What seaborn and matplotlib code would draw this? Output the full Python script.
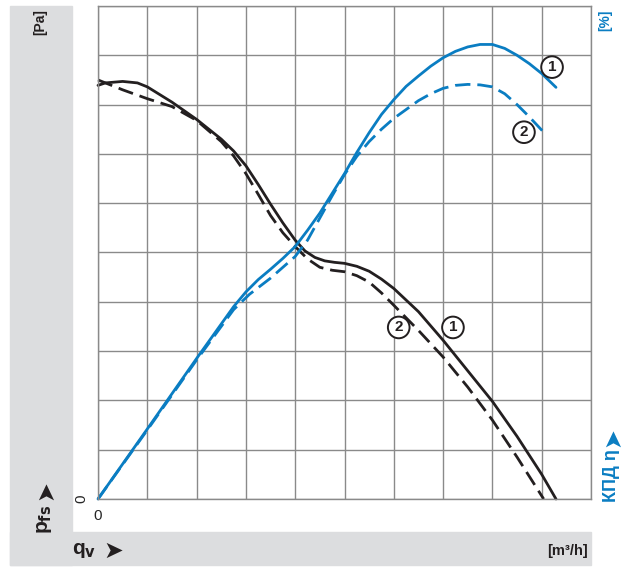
import matplotlib
matplotlib.use("Agg")
import matplotlib.pyplot as plt
import matplotlib.patches as mpatches
import numpy as np
import pandas as pd
import seaborn as sns

# ---------------------------------------------------------------------------
# Data (grid units)
# ---------------------------------------------------------------------------

flow_p1 = [0, 0.15, 0.5, 0.8, 1.0, 1.5, 2.0, 2.5, 2.75, 3.0, 3.25, 3.5, 3.75, 4.0, 4.2,
           4.4, 4.6, 4.8, 5.0, 5.25, 5.5, 5.75, 6.0, 6.5, 7.0, 7.5, 8.0, 8.5, 9.0, 9.29]
pres_1 = [8.39, 8.44, 8.47, 8.44, 8.36, 8.05, 7.70, 7.3, 7.06, 6.76, 6.38, 5.98, 5.6,
          5.25, 5.03, 4.9, 4.83, 4.8, 4.78, 4.72, 4.62, 4.46, 4.27, 3.8, 3.22, 2.6,
          1.98, 1.27, 0.5, 0.0]

flow_p2 = [0, 0.15, 0.5, 1.0, 1.5, 2.0, 2.5, 2.75, 3.0, 3.25, 3.5, 3.75, 4.0, 4.25, 4.5,
           4.75, 5.0, 5.25, 5.5, 5.75, 6.0, 6.5, 7.0, 7.5, 8.0, 8.5, 9.04]
pres_2 = [8.5, 8.44, 8.3, 8.12, 7.96, 7.68, 7.25, 6.96, 6.6, 6.18, 5.75, 5.4, 5.12,
          4.87, 4.7, 4.64, 4.61, 4.53, 4.4, 4.18, 3.93, 3.42, 2.88, 2.27, 1.6, 0.85, 0.0]

flow_e1 = [0, 1.0, 2.0, 2.5, 2.75, 3.0, 3.25, 3.5, 3.75, 4.0, 4.25, 4.5, 4.75, 5.0,
           5.25, 5.5, 5.75, 6.0, 6.25, 6.5, 6.75, 7.0, 7.25, 7.5, 7.75, 8.0, 8.25,
           8.5, 8.75, 9.0, 9.29]
eff_1 = [0, 1.42, 2.85, 3.55, 3.9, 4.2, 4.45, 4.66, 4.88, 5.12, 5.45, 5.8, 6.2, 6.6,
         7.03, 7.43, 7.8, 8.1, 8.37, 8.58, 8.78, 8.95, 9.08, 9.17, 9.22, 9.22, 9.14,
         9.0, 8.83, 8.63, 8.35]

flow_e2 = [0, 1.0, 2.0, 2.5, 2.75, 3.07, 3.5, 4.0, 4.25, 4.5, 4.75, 5.0, 5.25, 5.5,
           5.75, 6.0, 6.25, 6.5, 6.75, 7.0, 7.25, 7.5, 7.75, 8.0, 8.25, 8.5, 8.75, 9.04]
eff_2 = [0, 1.40, 2.82, 3.5, 3.84, 4.15, 4.48, 4.92, 5.25, 5.7, 6.15, 6.58, 6.95, 7.25,
         7.5, 7.72, 7.9, 8.08, 8.22, 8.33, 8.39, 8.41, 8.40, 8.36, 8.22, 8.0, 7.75, 7.44]

# curve number labels
label_x = [9.21, 8.64, 6.1, 7.2]
label_y = [8.76, 7.44, 3.48, 3.48]
label_txt = ["1", "2", "2", "1"]

BLACK = "#231f20"
BLUE = "#0a7dc2"
GRID = "#8a8a8a"
BAND = "#dcdddf"

# ---------------------------------------------------------------------------
# Figure
# ---------------------------------------------------------------------------

sns.set_style("white")
plt.rcParams["font.family"] = ["Liberation Sans Narrow", "Liberation Sans", "DejaVu Sans"]

W, H = 630, 568
fig = plt.figure(figsize=(W / 100, H / 100), dpi=100)

# gray bands on the left and bottom
fig.patches.append(mpatches.Rectangle((10 / W, 3 / H), 62 / W, 559 / H,
                                      transform=fig.transFigure, color=BAND, zorder=0))
fig.patches.append(mpatches.Rectangle((10 / W, 3 / H), 581 / W, 33 / H,
                                      transform=fig.transFigure, color=BAND, zorder=0))

ax = fig.add_axes([98 / W, (H - 499) / H, 493 / W, 493 / H])
ax.set_xlim(0, 10)
ax.set_ylim(0, 10)

ax.set_xticks(np.arange(0, 11, 1))
ax.set_yticks(np.arange(0, 11, 1))
ax.grid(True, color=GRID, linewidth=1.0)
ax.set_axisbelow(True)
ax.set_xticklabels(["0"] + [""] * 10, fontsize=11)
ax.set_yticklabels(["0"] + [""] * 10, fontsize=11, rotation=90, va="center")
ax.tick_params(axis="both", length=5, color=GRID, width=1.0, pad=2)
for s in ax.spines.values():
    s.set_color(GRID)
    s.set_linewidth(1.0)

curves = [
    (flow_p1, pres_1, BLACK, "-"),
    (flow_p2, pres_2, BLACK, (0, (5.5, 2.5))),
    (flow_e1, eff_1, BLUE, "-"),
    (flow_e2, eff_2, BLUE, (0, (5.5, 2.5))),
]
for fx, fy, col, ls in curves:
    df = pd.DataFrame({"q": fx, "v": fy})
    sns.lineplot(data=df, x="q", y="v", sort=False, color=col, linewidth=2.0,
                 linestyle=ls, ax=ax, clip_on=False)
ax.set_xlabel("")
ax.set_ylabel("")

for x, y, t in zip(label_x, label_y, label_txt):
    ax.text(x, y, t, ha="center", va="center", fontsize=11, fontweight="bold",
            color=BLACK, zorder=5,
            bbox=dict(boxstyle="circle,pad=0.25", fc="white", ec=BLACK, lw=1.4))

# axis captions
ARROW_FONT = ["DejaVu Sans"]
fig.text(40 / W, 1 - 22 / H, "[Pa]", rotation=90, ha="center", va="center",
         fontsize=10, fontweight="bold", color=BLACK)
fig.text(45 / W, 1 - 519 / H, r"p$_{\mathbf{fs}}$", rotation=90, ha="center", va="center",
         fontsize=15, fontweight="bold", color=BLACK)
fig.text(45 / W, 1 - 490 / H, "➤", rotation=90, ha="center", va="center",
         fontsize=17, color=BLACK, family=ARROW_FONT)
fig.text(72 / W, 1 - 551 / H, r"q$_{\mathbf{v}}$", ha="left", va="center",
         fontsize=15, fontweight="bold", color=BLACK)
fig.text(113 / W, 1 - 551 / H, "➤", ha="center", va="center",
         fontsize=17, color=BLACK, family=ARROW_FONT)
fig.text(588 / W, 1 - 551 / H, "[m³/h]", ha="right", va="center",
         fontsize=10.5, fontweight="bold", color=BLACK)
fig.text(605 / W, 1 - 20 / H, "[%]", rotation=90, ha="center", va="center",
         fontsize=10, fontweight="bold", color=BLUE)
fig.text(612 / W, 1 - 476 / H, "КПД η", rotation=90, ha="center", va="center",
         fontsize=13, fontweight="bold", color=BLUE)
fig.text(612 / W, 1 - 437 / H, "➤", rotation=90, ha="center", va="center",
         fontsize=17, color=BLUE, family=ARROW_FONT)

fig.savefig("out.png", dpi=100)
